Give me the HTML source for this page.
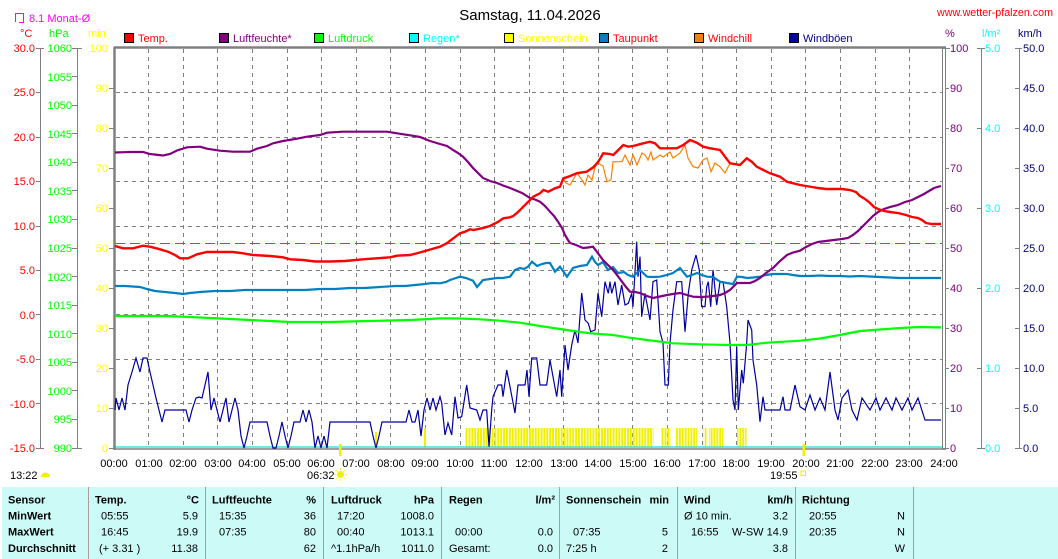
<!DOCTYPE html>
<html><head><meta charset="utf-8"><style>
html,body{margin:0;padding:0;background:#fff;}
svg{display:block;}
text{font-family:"Liberation Sans",Arial,sans-serif;font-size:11px;}
.b{font-weight:bold;}
.r{text-anchor:end;}
.m{text-anchor:middle;}
</style></head><body>
<svg width="1058" height="559" viewBox="0 0 1058 559" xmlns="http://www.w3.org/2000/svg">
<defs>
<pattern id="sun" patternUnits="userSpaceOnUse" x="114" y="0" width="2.882" height="600">
<rect x="0" y="0" width="2" height="600" fill="#f0f000"/>
</pattern>
</defs>
<rect width="1058" height="559" fill="#fff"/>

<!-- header -->
<text x="530" y="20" class="m" style="font-size:15px" fill="#000">Samstag, 11.04.2026</text>
<text x="1053" y="16" class="r" fill="#ff0000" textLength="116" lengthAdjust="spacingAndGlyphs">www.wetter-pfalzen.com</text>
<path d="M15.5,22 V13.5 H23.5 V23 M19,22.5 H23.5" stroke="#ff00ff" stroke-width="1" fill="none"/>
<text x="29" y="22" fill="#ff00ff">8.1 Monat-Ø</text>
<text x="20" y="37" fill="#ff0000">°C</text>
<text x="49" y="37" fill="#00ff00">hPa</text>
<text x="88" y="37" fill="#ffff00">min</text>
<text x="945" y="37" fill="#800080">%</text>
<text x="982" y="37" fill="#00ffff">l/m²</text>
<text x="1018" y="37" fill="#000080">km/h</text>

<!-- legend -->
<g stroke="#000" stroke-width="1">
<rect x="124.5" y="33.5" width="9" height="9" fill="#ff0000"/>
<rect x="219.5" y="33.5" width="9" height="9" fill="#800080"/>
<rect x="314.5" y="33.5" width="9" height="9" fill="#00ff00"/>
<rect x="409.5" y="33.5" width="9" height="9" fill="#00ffff"/>
<rect x="504.5" y="33.5" width="9" height="9" fill="#ffff00"/>
<rect x="599.5" y="33.5" width="9" height="9" fill="#0080c0"/>
<rect x="694.5" y="33.5" width="9" height="9" fill="#ff8000"/>
<rect x="789.5" y="33.5" width="9" height="9" fill="#0000a0"/>
</g>
<text x="138" y="42" fill="#ff0000">Temp.</text>
<text x="233" y="42" fill="#800080">Luftfeuchte*</text>
<text x="328" y="42" fill="#00ff00">Luftdruck</text>
<text x="423" y="42" fill="#00ffff">Regen*</text>
<text x="518" y="42" fill="#ffff00">Sonnenschein</text>
<text x="613" y="42" fill="#ff0000">Taupunkt</text>
<text x="708" y="42" fill="#ff0000">Windchill</text>
<text x="803" y="42" fill="#000080">Windböen</text>

<!-- left axes -->
<g stroke="#808080" stroke-width="1" fill="none">
<line x1="40.5" y1="48" x2="40.5" y2="448"/>
<line x1="36" y1="48.5" x2="44" y2="48.5"/><line x1="36" y1="448.5" x2="44" y2="448.5"/>
<line x1="36" y1="92.5" x2="40" y2="92.5"/><line x1="36" y1="137.5" x2="40" y2="137.5"/><line x1="36" y1="181.5" x2="40" y2="181.5"/><line x1="36" y1="226.5" x2="40" y2="226.5"/><line x1="36" y1="270.5" x2="40" y2="270.5"/><line x1="36" y1="314.5" x2="40" y2="314.5"/><line x1="36" y1="359.5" x2="40" y2="359.5"/><line x1="36" y1="403.5" x2="40" y2="403.5"/>
<line x1="77.5" y1="48" x2="77.5" y2="448"/>
<line x1="72" y1="48.5" x2="82" y2="48.5"/><line x1="72" y1="448.5" x2="82" y2="448.5"/>
<line x1="72" y1="76.5" x2="77" y2="76.5"/><line x1="72" y1="105.5" x2="77" y2="105.5"/><line x1="72" y1="133.5" x2="77" y2="133.5"/><line x1="72" y1="162.5" x2="77" y2="162.5"/><line x1="72" y1="190.5" x2="77" y2="190.5"/><line x1="72" y1="219.5" x2="77" y2="219.5"/><line x1="72" y1="248.5" x2="77" y2="248.5"/><line x1="72" y1="276.5" x2="77" y2="276.5"/><line x1="72" y1="305.5" x2="77" y2="305.5"/><line x1="72" y1="333.5" x2="77" y2="333.5"/><line x1="72" y1="362.5" x2="77" y2="362.5"/><line x1="72" y1="390.5" x2="77" y2="390.5"/><line x1="72" y1="419.5" x2="77" y2="419.5"/>
<line x1="109" y1="88.5" x2="114" y2="88.5"/><line x1="109" y1="128.5" x2="114" y2="128.5"/><line x1="109" y1="168.5" x2="114" y2="168.5"/><line x1="109" y1="208.5" x2="114" y2="208.5"/><line x1="109" y1="248.5" x2="114" y2="248.5"/><line x1="109" y1="288.5" x2="114" y2="288.5"/><line x1="109" y1="328.5" x2="114" y2="328.5"/><line x1="109" y1="368.5" x2="114" y2="368.5"/><line x1="109" y1="408.5" x2="114" y2="408.5"/><line x1="109" y1="448.5" x2="114" y2="448.5"/>
</g>
<g fill="#ff0000" class="r">
<text x="35" y="52" class="r">30.0</text><text x="35" y="96" class="r">25.0</text><text x="35" y="141" class="r">20.0</text><text x="35" y="185" class="r">15.0</text><text x="35" y="230" class="r">10.0</text><text x="35" y="274" class="r">5.0</text><text x="35" y="319" class="r">0.0</text><text x="35" y="363" class="r">-5.0</text><text x="35" y="408" class="r">-10.0</text><text x="35" y="452" class="r">-15.0</text>
</g>
<g fill="#00ff00">
<text x="72" y="52" class="r">1060</text><text x="72" y="81" class="r">1055</text><text x="72" y="109" class="r">1050</text><text x="72" y="138" class="r">1045</text><text x="72" y="166" class="r">1040</text><text x="72" y="195" class="r">1035</text><text x="72" y="223" class="r">1030</text><text x="72" y="252" class="r">1025</text><text x="72" y="281" class="r">1020</text><text x="72" y="309" class="r">1015</text><text x="72" y="338" class="r">1010</text><text x="72" y="366" class="r">1005</text><text x="72" y="395" class="r">1000</text><text x="72" y="423" class="r">995</text><text x="72" y="452" class="r">990</text>
</g>
<g fill="#ffff00">
<text x="108" y="52" class="r">100</text><text x="108" y="92" class="r">90</text><text x="108" y="132" class="r">80</text><text x="108" y="172" class="r">70</text><text x="108" y="212" class="r">60</text><text x="108" y="252" class="r">50</text><text x="108" y="292" class="r">40</text><text x="108" y="332" class="r">30</text><text x="108" y="372" class="r">20</text><text x="108" y="412" class="r">10</text><text x="108" y="452" class="r">0</text>
</g>

<!-- right axes -->
<g stroke="#808080" stroke-width="1" fill="none">
<line x1="942" y1="48.5" x2="950" y2="48.5"/><line x1="945" y1="88.5" x2="949" y2="88.5"/><line x1="945" y1="128.5" x2="949" y2="128.5"/><line x1="945" y1="168.5" x2="949" y2="168.5"/><line x1="945" y1="208.5" x2="949" y2="208.5"/><line x1="945" y1="248.5" x2="949" y2="248.5"/><line x1="945" y1="288.5" x2="949" y2="288.5"/><line x1="945" y1="328.5" x2="949" y2="328.5"/><line x1="945" y1="368.5" x2="949" y2="368.5"/><line x1="945" y1="408.5" x2="949" y2="408.5"/><line x1="942" y1="448.5" x2="949" y2="448.5"/>
<line x1="981.5" y1="48" x2="981.5" y2="448"/>
<line x1="977" y1="48.5" x2="985" y2="48.5"/><line x1="977" y1="448.5" x2="985" y2="448.5"/>
<line x1="977" y1="128.5" x2="981" y2="128.5"/><line x1="977" y1="208.5" x2="981" y2="208.5"/><line x1="977" y1="288.5" x2="981" y2="288.5"/><line x1="977" y1="368.5" x2="981" y2="368.5"/>
<line x1="1019.5" y1="48" x2="1019.5" y2="448"/>
<line x1="1015" y1="48.5" x2="1022" y2="48.5"/><line x1="1015" y1="448.5" x2="1022" y2="448.5"/>
<line x1="1015" y1="88.5" x2="1019" y2="88.5"/><line x1="1015" y1="128.5" x2="1019" y2="128.5"/><line x1="1015" y1="168.5" x2="1019" y2="168.5"/><line x1="1015" y1="208.5" x2="1019" y2="208.5"/><line x1="1015" y1="248.5" x2="1019" y2="248.5"/><line x1="1015" y1="288.5" x2="1019" y2="288.5"/><line x1="1015" y1="328.5" x2="1019" y2="328.5"/><line x1="1015" y1="368.5" x2="1019" y2="368.5"/><line x1="1015" y1="408.5" x2="1019" y2="408.5"/>
</g>
<g fill="#800080">
<text x="950" y="52">100</text><text x="950" y="92">90</text><text x="950" y="132">80</text><text x="950" y="172">70</text><text x="950" y="212">60</text><text x="950" y="252">50</text><text x="950" y="292">40</text><text x="950" y="332">30</text><text x="950" y="372">20</text><text x="950" y="412">10</text><text x="950" y="452">0</text>
</g>
<g fill="#00ffff">
<text x="985" y="52">5.0</text><text x="985" y="132">4.0</text><text x="985" y="212">3.0</text><text x="985" y="292">2.0</text><text x="985" y="372">1.0</text><text x="985" y="452">0.0</text>
</g>
<g fill="#000080">
<text x="1023" y="52">50.0</text><text x="1023" y="92">45.0</text><text x="1023" y="132">40.0</text><text x="1023" y="172">35.0</text><text x="1023" y="212">30.0</text><text x="1023" y="252">25.0</text><text x="1023" y="292">20.0</text><text x="1023" y="332">15.0</text><text x="1023" y="372">10.0</text><text x="1023" y="412">5.0</text><text x="1023" y="452">0.0</text>
</g>

<!-- grid -->
<g stroke="#808080" stroke-width="1" stroke-dasharray="4,4" fill="none">
<path d="M148.5,49V448M183.5,49V448M217.5,49V448M252.5,49V448M287.5,49V448M321.5,49V448M356.5,49V448M390.5,49V448M425.5,49V448M460.5,49V448M494.5,49V448M529.5,49V448M563.5,49V448M598.5,49V448M632.5,49V448M667.5,49V448M702.5,49V448M736.5,49V448M771.5,49V448M805.5,49V448M840.5,49V448M875.5,49V448M909.5,49V448"/>
<path d="M116,92.5H942M116,137.5H942M116,181.5H942M116,226.5H942M116,270.5H942M116,314.5H942M116,359.5H942M116,403.5H942"/>
</g>
<line x1="115" y1="243.5" x2="942" y2="243.5" stroke="#ff00ff" stroke-width="1" stroke-dasharray="10,5"/>

<!-- sunshine -->
<g fill="url(#sun)">
<rect x="465" y="428" width="188.5" height="20"/>
<rect x="661" y="428" width="9.5" height="20"/>
<rect x="675" y="428" width="22" height="20"/>
<rect x="703.5" y="428" width="3" height="20"/>
<rect x="709" y="428" width="14.5" height="20"/>
<rect x="737" y="428" width="9.5" height="20"/>
</g>
<rect x="424" y="428" width="2" height="20" fill="#f0f000"/>
<rect x="375" y="432" width="2" height="16" fill="#f0f000"/>

<!-- rain line -->
<line x1="115" y1="447" x2="942" y2="447" stroke="#40e0e0" stroke-width="1.5"/>

<!-- plot border -->
<g stroke="#808080" fill="none">
<line x1="114" y1="47.5" x2="946" y2="47.5" stroke-width="2.5"/>
<line x1="114.5" y1="47" x2="114.5" y2="450" stroke-width="2.5"/>
<line x1="114" y1="449" x2="946" y2="449" stroke-width="1.5"/>
<line x1="942.5" y1="47" x2="942.5" y2="450" stroke-width="1"/>
<line x1="945.5" y1="47" x2="945.5" y2="450" stroke-width="1"/>
</g>

<!-- wind gusts -->
<polyline fill="none" stroke="#0000a0" stroke-width="1.2" stroke-linejoin="miter" points="115,410 116,398 119,410 122,398 125,410 128,385 132,372 136,358 140,372 143,358 147,358 150,372 153,385 156,398 159,410 162,422 165,410 170,410 176,410 182,410 186,410 189,422 192,410 196,398 199,397 202,398 205,385 208,372 211,410 214,398 217,410 220,422 223,410 226,398 229,422 232,410 235,398 238,410 241,436 244,448 247,436 250,422 253,422 256,422 260,422 264,422 267,422 270,436 273,448 276,448 279,436 282,422 285,436 288,448 291,436 294,422 297,422 300,422 303,410 306,422 309,410 312,422 315,448 318,436 321,448 324,436 327,448 330,422 334,422 340,422 346,422 352,422 358,422 364,422 370,422 373,436 376,448 379,436 382,422 386,422 390,422 394,422 398,422 402,422 406,422 409,410 412,422 415,422 418,410 421,436 424,410 427,398 430,410 433,398 436,410 440,396.7 441.7,403 445,435 448,423 451.7,435 455,396.7 458,418 461.7,416.7 466.7,385 470,408 476.7,410 480,420 483,410 486.7,410 489,446.7 491.7,410 493,396.7 498,385 501.7,385 503,396.7 506.7,370 510,386.7 515,413 518,385 525,385 527,370 529,396.7 531.7,358 536.7,358 540,385 546.7,385 550,360 553,376.7 556.7,396.7 560,370 561.7,396.7 565,345 568,370 571.7,345 575,330 578,343 581.7,293 585,320 588.3,323.3 590.7,331.7 595,330 598,293 601.7,316.7 605,281.7 608.3,293.3 610,281.7 611.7,293.3 615,281.7 618,305 621.7,285 625,305 628.3,303.3 631.7,293.3 633,306.7 636.7,241.7 638,276.7 640,256.7 641.7,316.7 645,293.3 650,320 653,281.7 656.7,280 660,331.7 663,343 665,385 668.3,385 670,343 673,310 676.7,281.7 681.7,281.7 685,331.7 688.3,293.3 691.7,270 696,255 699.3,270 701.7,306.7 705,306.7 706.7,286.7 708.3,281.7 710.7,306.7 713,270 716.7,305 720,281.7 723,281.7 726.7,306.7 730,343 733,400 735,410 736.7,346.7 738.3,410 741.7,370 743.3,383.3 746.7,343 748,320 751.7,330 753,360 756.7,385 760,421.7 763,396.7 765,410 780,410 783,396.7 785,410 790,410 795,385 800,406.7 805,410 810,395 815,410 820,398 825,410 830,372 835,410 838,420 842,398 848,390 852,410 857,420 862,398 870,410 876,398 880,410 886,398 892,410 896,398 902,410 908,398 912,410 918,398 925,420 941,420"/>

<!-- pressure -->
<polyline fill="none" stroke="#00ff00" stroke-width="2.2" points="115,316 140,316 165,316 190,317 210,318 230,319 250,320 270,321 290,322 310,322 330,322 350,321.5 370,321 390,320.5 410,320 430,319 440,318.3 460,318.5 480,319.3 500,320.7 520,322.7 540,326 566.7,330 590,333.3 613,335 627,337.3 647,340 673,343.3 700,344.3 727,345 747,345 767,342.7 800,340.7 820,338.5 840,335 860,331 880,329.5 900,328 920,327 941,327.5"/>

<!-- dew point -->
<polyline fill="none" stroke="#0080c0" stroke-width="2.2" points="115,286 125,286 140,287 147,289 155,291 165,292 175,293 183,294 190,293 200,292 215,291 230,291 245,290 260,290 275,290 290,290 305,290 320,289 335,289 350,288 365,288 380,287 395,286 405,286 415,285 425,284 432,283 440,283.3 446,282 450,280 456,278 460,276.7 466,278 473,280.7 477,287 483,280 490,279 497,278 503,278 510,276.7 515,270 520,268 524,269 528,266.7 532,261.7 537,266 542,264 546,263 550,263 555,271.7 560,266.7 567,276.7 573,268 580,266 587,265 592,256.7 595,262 598,265 603,262 608,270 613,267 618,273 624,272 628,275 633,276.7 640,270 647,276.7 653,277 660,276.7 667,275 673,273 680,268 687,276.7 692,275 697,273 702,275 707,276.7 713,277 720,281.7 727,283 733,284 737,276.7 742,277 747,278 753,277.5 760,276.7 766,275 773,274 780,274 787,274 793,275 800,276 810,276 820,275.5 830,276 840,276 850,276.5 860,276 870,276.5 880,277 890,277.5 900,278 910,278 920,278 930,278 941,278"/>

<!-- humidity -->
<polyline fill="none" stroke="#800080" stroke-width="2.2" points="115,152.5 130,152 143,152 150,154 163,155.5 170,154 177,150.5 187,147.3 200,146.7 207,148.7 220,150.7 233,151.7 250,151.7 257,148.7 267,146 273,143.3 283,141 297,138.7 307,136.7 320,135 327,132.7 343,131.7 387,131.7 397,133.3 410,135.3 420,137 430,141 440,144 447,146 453,150 458,153 463,156.7 468,162 473,168 478,173 483,178 490,181 497,183 503,185.5 510,188 516,190.5 522,193 526,195.5 530,198 535,199.5 540,201.7 545,206 550,211.7 554,216 558,221.7 562,228 565,235 568,240 570,243 576,245 583,248 588,247.5 593,246.7 597,252 600,256 603,260 608,265 613,270 617,275 622,281.7 626,287 630,291.7 635,292 640,293 647,296 653,298 660,296.5 667,295 673,294 680,293 687,295 693,296.7 700,297 707,296.7 713,296 720,295 725,293 730,290 734,286 737,283 744,283 750,283 755,281 760,278 766,273 773,268 780,261 787,255 793,252.5 800,250.7 806,247 812,244 818,242 826,241 834,240 842,239 848,238 853,235 858,231 863,226 868,221 873,216 878,212 884,209 890,207 898,205 905,202 912,200 918,197 924,194 929,191 934,188 941,186"/>

<!-- windchill -->
<polyline fill="none" stroke="#ff8000" stroke-width="1.2" points="563,178.3 566,183 570,185 573,180 577,173 582,180 585,185 588,175 592,180 595,167 598,163 603,166 607,181.7 611,180 613,161.7 622,161.7 625,155 630,165 633,155 637,165 642,153 645,155 648,160 651,152 653,160 660,155 663,157 670,152 673,158 680,153 685,145 688,158 693,166.7 698,168 703,160 707,158 711,171.7 715,163 720,166.7 725,173 730,163.3"/>

<!-- temperature -->
<polyline fill="none" stroke="#ff0000" stroke-width="2.4" points="115,246 123,248.3 133,248.3 143,245.7 150,246.7 160,249.3 168,251.7 175,255 180,258.3 188,258.3 197,254.3 207,252 220,252 233,252 243,253.3 253,255 270,256 283,257.3 290,259.3 303,260 315,261.5 330,261.5 345,261 363,259.3 377,258.3 390,257.3 397,255.7 410,255 418,253 425,251 432,249 440,246.7 446.7,243.3 453.3,238.3 460,233.3 465,231.7 470,229.3 473.3,230 481.7,228.3 490,226 498.3,221.7 503.3,218.3 510,217.3 513.3,216 518.3,211.7 521.7,208.3 528.3,201.7 533.3,196.7 540,193.3 543.3,190 548.3,191.7 555,188.3 560,186.7 563.3,178.3 568.3,176.7 576.7,173.3 580,172.7 586.7,171.7 593.3,167.3 598.3,161.7 603.3,153.3 610,154 613.3,155 618.3,150 623.3,145 628.3,146.7 633.3,146 643.3,143.3 650,141.7 655,143.3 660,148.3 676.7,148.3 683.3,145 690,140 696.7,142.7 703.3,146.7 710,148.3 720,150 725,156.7 730,163.3 740,165 746.7,158.3 751.7,161.7 756.7,166.7 763.3,170 770,173.3 780,176.7 786.7,181.7 793.3,183.3 800,185 806,186 812,187 818,188 826,189 834,189 842,189 850,190 856,192 860,196 865,199 870,203 874,207 878,209 884,211 890,212 898,213 906,215 912,217 918,218 922,220 926,223 932,224 941,224"/>

<!-- sunrise / sunset markers -->
<rect x="339" y="444" width="2.5" height="12" fill="#f0f000"/>
<rect x="802.5" y="444" width="2.5" height="12" fill="#f0f000"/>

<!-- x labels -->
<g fill="#000">
<text x="114" y="467" class="m">00:00</text><text x="149" y="467" class="m">01:00</text><text x="183" y="467" class="m">02:00</text><text x="218" y="467" class="m">03:00</text><text x="252" y="467" class="m">04:00</text><text x="287" y="467" class="m">05:00</text><text x="321" y="467" class="m">06:00</text><text x="356" y="467" class="m">07:00</text><text x="391" y="467" class="m">08:00</text><text x="425" y="467" class="m">09:00</text><text x="460" y="467" class="m">10:00</text><text x="494" y="467" class="m">11:00</text><text x="529" y="467" class="m">12:00</text><text x="564" y="467" class="m">13:00</text><text x="598" y="467" class="m">14:00</text><text x="633" y="467" class="m">15:00</text><text x="667" y="467" class="m">16:00</text><text x="702" y="467" class="m">17:00</text><text x="736" y="467" class="m">18:00</text><text x="771" y="467" class="m">19:00</text><text x="806" y="467" class="m">20:00</text><text x="840" y="467" class="m">21:00</text><text x="875" y="467" class="m">22:00</text><text x="909" y="467" class="m">23:00</text><text x="944" y="467" class="m">24:00</text>
<text x="10" y="479">13:22</text>
<text x="307" y="479">06:32</text>
<text x="770" y="479">19:55</text>
</g>
<path d="M41,477 A4.5,4.5 0 0 1 50,477 Z" fill="#f0f000"/>
<circle cx="340.5" cy="474.5" r="3.5" fill="#f0f000"/>
<g stroke="#f8f060" stroke-width="1"><path d="M340.5,468V470M340.5,479V481M334,474.5H336M345,474.5H347M336,470L337.5,471.5M343.5,477.5L345,479M345,470L343.5,471.5M337.5,477.5L336,479"/></g>
<rect x="801" y="471" width="4.5" height="4.5" fill="none" stroke="#f0f000" stroke-width="1"/>

<!-- table -->
<rect x="2" y="487" width="1056" height="72" fill="#ccfbf7"/>
<g stroke="#a0a0a0" stroke-width="1">
<path d="M88.5,487V559M205.5,487V559M323.5,487V559M441.5,487V559M559.5,487V559M677.5,487V559M795.5,487V559M913.5,487V559"/>
</g>
<g fill="#000">
<text x="8" y="503.5" class="b">Sensor</text>
<text x="95" y="503.5" class="b">Temp.</text>
<text x="199" y="503.5" class="b r">°C</text>
<text x="212" y="503.5" class="b">Luftfeuchte</text>
<text x="316" y="503.5" class="b r">%</text>
<text x="331" y="503.5" class="b">Luftdruck</text>
<text x="434" y="503.5" class="b r">hPa</text>
<text x="449" y="503.5" class="b">Regen</text>
<text x="555" y="503.5" class="b r">l/m²</text>
<text x="566" y="503.5" class="b">Sonnenschein</text>
<text x="669" y="503.5" class="b r">min</text>
<text x="684" y="503.5" class="b">Wind</text>
<text x="793" y="503.5" class="b r">km/h</text>
<text x="802" y="503.5" class="b">Richtung</text>

<text x="8" y="519.5" class="b">MinWert</text>
<text x="101" y="519.5">05:55</text>
<text x="198" y="519.5" class="r">5.9</text>
<text x="219" y="519.5">15:35</text>
<text x="316" y="519.5" class="r">36</text>
<text x="337" y="519.5">17:20</text>
<text x="434" y="519.5" class="r">1008.0</text>
<text x="684" y="519.5">Ø 10 min.</text>
<text x="788" y="519.5" class="r">3.2</text>
<text x="809" y="519.5">20:55</text>
<text x="905" y="519.5" class="r">N</text>

<text x="8" y="535.5" class="b">MaxWert</text>
<text x="101" y="535.5">16:45</text>
<text x="198" y="535.5" class="r">19.9</text>
<text x="219" y="535.5">07:35</text>
<text x="316" y="535.5" class="r">80</text>
<text x="337" y="535.5">00:40</text>
<text x="434" y="535.5" class="r">1013.1</text>
<text x="455" y="535.5">00:00</text>
<text x="553" y="535.5" class="r">0.0</text>
<text x="573" y="535.5">07:35</text>
<text x="668" y="535.5" class="r">5</text>
<text x="691" y="535.5">16:55</text>
<text x="788" y="535.5" class="r">W-SW 14.9</text>
<text x="809" y="535.5">20:35</text>
<text x="905" y="535.5" class="r">N</text>

<text x="8" y="552" class="b">Durchschnitt</text>
<text x="99" y="552">(+ 3.31 )</text>
<text x="198" y="552" class="r">11.38</text>
<text x="316" y="552" class="r">62</text>
<text x="331" y="552">^1.1hPa/h</text>
<text x="434" y="552" class="r">1011.0</text>
<text x="449" y="552">Gesamt:</text>
<text x="553" y="552" class="r">0.0</text>
<text x="566" y="552">7:25 h</text>
<text x="668" y="552" class="r">2</text>
<text x="788" y="552" class="r">3.8</text>
<text x="905" y="552" class="r">W</text>
</g>
</svg>
</body></html>
